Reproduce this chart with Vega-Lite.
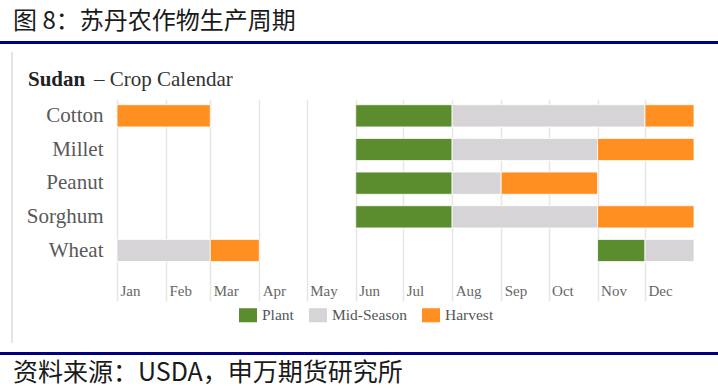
{
  "$schema": "https://vega.github.io/schema/vega-lite/v6.json",
  "width": 577,
  "height": 202,
  "autosize": "none",
  "padding": {"left": 117, "top": 99, "right": 24, "bottom": 89},
  "background": "white",
  "config": {"view": {"stroke": null}, "font": "Liberation Serif"},
  "datasets": {
    "crops": [
      {"crop": "Cotton", "stage": "Harvest", "start": "2023-01-01", "end": "2023-03-01"},
      {"crop": "Cotton", "stage": "Plant", "start": "2023-06-01", "end": "2023-08-01"},
      {"crop": "Cotton", "stage": "Mid-Season", "start": "2023-08-01", "end": "2023-12-01"},
      {"crop": "Cotton", "stage": "Harvest", "start": "2023-12-01", "end": "2024-01-01"},
      {"crop": "Millet", "stage": "Plant", "start": "2023-06-01", "end": "2023-08-01"},
      {"crop": "Millet", "stage": "Mid-Season", "start": "2023-08-01", "end": "2023-11-01"},
      {"crop": "Millet", "stage": "Harvest", "start": "2023-11-01", "end": "2024-01-01"},
      {"crop": "Peanut", "stage": "Plant", "start": "2023-06-01", "end": "2023-08-01"},
      {"crop": "Peanut", "stage": "Mid-Season", "start": "2023-08-01", "end": "2023-09-01"},
      {"crop": "Peanut", "stage": "Harvest", "start": "2023-09-01", "end": "2023-11-01"},
      {"crop": "Sorghum", "stage": "Plant", "start": "2023-06-01", "end": "2023-08-01"},
      {"crop": "Sorghum", "stage": "Mid-Season", "start": "2023-08-01", "end": "2023-11-01"},
      {"crop": "Sorghum", "stage": "Harvest", "start": "2023-11-01", "end": "2024-01-01"},
      {"crop": "Wheat", "stage": "Mid-Season", "start": "2023-01-01", "end": "2023-03-01"},
      {"crop": "Wheat", "stage": "Harvest", "start": "2023-03-01", "end": "2023-04-01"},
      {"crop": "Wheat", "stage": "Plant", "start": "2023-11-01", "end": "2023-12-01"},
      {"crop": "Wheat", "stage": "Mid-Season", "start": "2023-12-01", "end": "2024-01-01"}
    ]
  },
  "layer": [
    {
      "data": {"name": "crops"},
      "mark": {"type": "bar", "stroke": "white", "strokeWidth": 0.8},
      "encoding": {
        "y": {
          "field": "crop",
          "type": "nominal",
          "scale": {"domain": ["Cotton", "Millet", "Peanut", "Sorghum", "Wheat", " "], "paddingInner": 0.34, "paddingOuter": 0.17},
          "axis": {"title": null, "domain": false, "ticks": false, "grid": false, "labelFontSize": 21, "labelColor": "#595959", "labelPadding": 14, "labelFont": "Liberation Serif"}
        },
        "x": {
          "field": "start",
          "type": "temporal",
          "scale": {"type": "utc", "domain": [{"year": 2023, "month": 1, "date": 1, "utc": true}, {"year": 2024, "month": 1, "date": 1, "utc": true}]},
          "axis": {
            "title": null,
            "format": "%b",
            "values": [
              {"year": 2023, "month": 1, "date": 1, "utc": true},
              {"year": 2023, "month": 2, "date": 1, "utc": true},
              {"year": 2023, "month": 3, "date": 1, "utc": true},
              {"year": 2023, "month": 4, "date": 1, "utc": true},
              {"year": 2023, "month": 5, "date": 1, "utc": true},
              {"year": 2023, "month": 6, "date": 1, "utc": true},
              {"year": 2023, "month": 7, "date": 1, "utc": true},
              {"year": 2023, "month": 8, "date": 1, "utc": true},
              {"year": 2023, "month": 9, "date": 1, "utc": true},
              {"year": 2023, "month": 10, "date": 1, "utc": true},
              {"year": 2023, "month": 11, "date": 1, "utc": true},
              {"year": 2023, "month": 12, "date": 1, "utc": true}
            ],
            "domain": false,
            "ticks": false,
            "grid": true,
            "gridColor": "#e6e6e6",
            "gridWidth": 1.5,
            "offset": -11,
            "labelPadding": 0,
            "labelBaseline": "middle",
            "labelAlign": "left",
            "labelOffset": 3,
            "labelFontSize": 15,
            "labelColor": "#666666",
            "labelFont": "Liberation Serif",
            "labelFlush": false,
            "labelOverlap": false
          }
        },
        "x2": {"field": "end"},
        "color": {
          "field": "stage",
          "type": "nominal",
          "scale": {"domain": ["Plant", "Mid-Season", "Harvest"], "range": ["#5b8c2e", "#d6d4d6", "#fe8f20"]},
          "legend": {
            "title": null,
            "orient": "none",
            "direction": "horizontal",
            "legendX": 122,
            "legendY": 207,
            "symbolType": "M-1,-0.78H1V0.78H-1Z",
            "symbolSize": 324,
            "symbolStrokeWidth": 0,
            "symbolOpacity": 1,
            "labelFontSize": 15.5,
            "labelColor": "#555555",
            "labelFont": "Liberation Serif",
            "labelOffset": 5,
            "columnPadding": 15,
            "padding": 0
          }
        }
      }
    },
    {
      "data": {"values": [{"y1": 0}]},
      "mark": {"type": "rule", "color": "#000080", "strokeWidth": 3},
      "encoding": {"x": {"value": -117}, "x2": {"value": 601}, "y": {"value": -56.5}}
    },
    {
      "data": {"values": [{"y1": 0}]},
      "mark": {"type": "rule", "color": "#000080", "strokeWidth": 3},
      "encoding": {"x": {"value": -117}, "x2": {"value": 601}, "y": {"value": 254.5}}
    },
    {
      "data": {"values": [{"y1": 0}]},
      "mark": {"type": "rule", "color": "#e4e4e4", "strokeWidth": 2},
      "encoding": {"x": {"value": -105}, "y": {"value": -47}, "y2": {"value": 244}}
    },
    {
      "data": {"values": [{"t": "图 8：苏丹农作物生产周期"}]},
      "mark": {"type": "text", "font": "Noto Sans CJK SC", "fontSize": 24, "color": "#1a1a1a", "align": "left", "baseline": "alphabetic"},
      "encoding": {"text": {"field": "t"}, "x": {"value": -104}, "y": {"value": -70.5}}
    },
    {
      "data": {"values": [{"t": "资料来源：USDA，申万期货研究所"}]},
      "mark": {"type": "text", "font": "Noto Sans CJK SC", "fontSize": 25, "color": "#1a1a1a", "align": "left", "baseline": "alphabetic"},
      "encoding": {"text": {"field": "t"}, "x": {"value": -104}, "y": {"value": 282}}
    },
    {
      "data": {"values": [{"t": "Sudan"}]},
      "mark": {"type": "text", "font": "Liberation Serif", "fontSize": 21, "fontWeight": "bold", "color": "#222222", "align": "left", "baseline": "alphabetic"},
      "encoding": {"text": {"field": "t"}, "x": {"value": -89}, "y": {"value": -13}}
    },
    {
      "data": {"values": [{"t": "– Crop Calendar"}]},
      "mark": {"type": "text", "font": "Liberation Serif", "fontSize": 21, "color": "#333333", "align": "left", "baseline": "alphabetic"},
      "encoding": {"text": {"field": "t"}, "x": {"value": -23}, "y": {"value": -13}}
    }
  ]
}
